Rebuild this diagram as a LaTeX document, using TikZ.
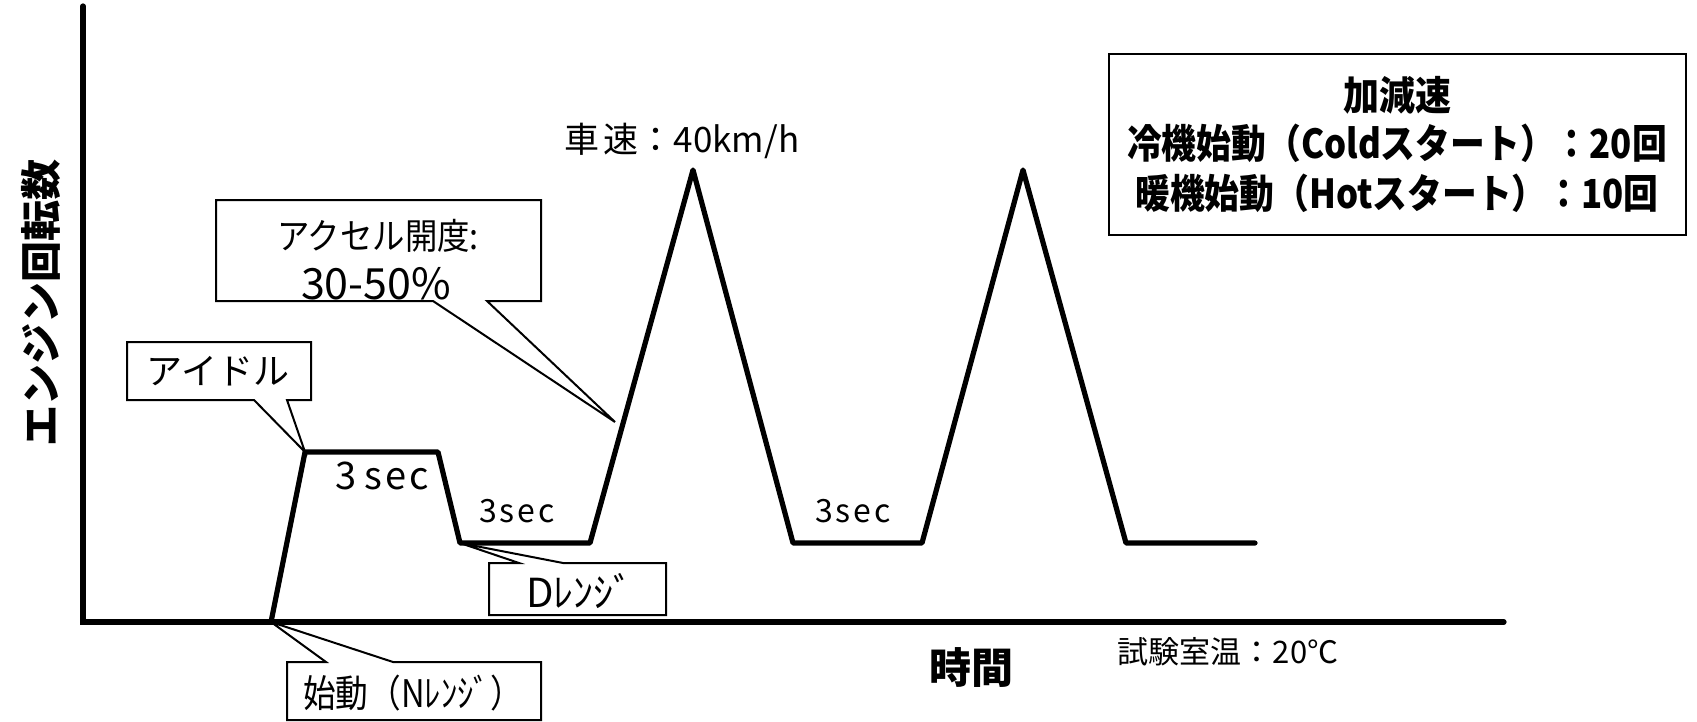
\documentclass[tikz,border=0pt]{standalone}
\usepackage{fontspec}
\setmainfont{Noto Sans CJK JP}
\begin{document}
\begin{tikzpicture}[x=0.5pt,y=-0.5pt,
  axisline/.style={line width=2.6pt,line cap=round},
  curveline/.style={line width=2.6pt,line join=round,line cap=round},
  calloutline/.style={line width=1pt,line join=miter},
  txt/.style={inner sep=0pt,anchor=center},
  secfont/.style={font=\fontsize{16}{19}\selectfont},
  boldfont/.style={font=\bfseries\fontsize{20}{23}\selectfont}]
\useasboundingbox (0,0) rectangle (1697,722);
% axes
\coordinate (origin) at (83,622);
\coordinate (ytop) at (83,6);
\coordinate (xend) at (1504,622);
\draw[axisline] (ytop) -- (origin) -- (xend);
\node[txt,rotate=90,font=\bfseries\fontsize{20.5}{24}\selectfont] (ylab) at (41,303) {エンジン回転数};
\node[txt,font=\bfseries\fontsize{21}{24}\selectfont] (xlab) at (971,668) {時間};
% engine speed curve
\coordinate (p0) at (271,622);
\coordinate (p1) at (305,452);
\coordinate (p2) at (438,452);
\coordinate (p3) at (460,543);
\coordinate (p4) at (590,543);
\coordinate (p5) at (693,170);
\coordinate (p6) at (793,543);
\coordinate (p7) at (922,543);
\coordinate (p8) at (1023,170);
\coordinate (p9) at (1126,543);
\coordinate (p10) at (1255,543);
\draw[curveline] (p0) -- (p1) -- (p2) -- (p3) -- (p4) -- (p5) -- (p6) -- (p7) -- (p8) -- (p9) -- (p10);
% labels on curve
\node[txt,font=\fontsize{19}{22}\selectfont] (s1) at (382,476) {3\kern4pt s\kern1.5pt e\kern1.5pt c};
\node[txt,secfont] (s2) at (517,511) {3\kern1.5pt s\kern1.5pt e\kern1.5pt c};
\node[txt,secfont] (s3) at (853,511) {3\kern1.5pt s\kern1.5pt e\kern1.5pt c};
\node[txt,font=\fontsize{17.5}{20}\selectfont] (speed) at (682,141) {車\kern2pt 速：40km/h};
\node[txt,font=\fontsize{15.5}{18}\selectfont] (temp) at (1228,652) {試験室温：20℃};
% callout: idle
\coordinate (ia) at (127,342);
\coordinate (ib) at (311,342);
\coordinate (ic) at (311,400);
\coordinate (id) at (287,400);
\coordinate (ie) at (254,400);
\coordinate (ig) at (127,400);
\draw[calloutline] (ia) -- (ib) -- (ic) -- (id) -- (p1) -- (ie) -- (ig) -- cycle;
\node[txt,font=\fontsize{18}{21}\selectfont] (idle) at (218,371) {アイドル};
% callout: accelerator
\coordinate (aa) at (216,200);
\coordinate (ab) at (541,200);
\coordinate (ac) at (541,301);
\coordinate (ad) at (487,301);
\coordinate (atip) at (615,422);
\coordinate (ae) at (433,301);
\coordinate (ag) at (216,301);
\draw[calloutline] (aa) -- (ab) -- (ac) -- (ad) -- (atip) -- (ae) -- (ag) -- cycle;
\node[txt,font=\fontsize{18}{21}\selectfont] (acc1) at (378,236) {\scalebox{0.9}[1]{アクセル開度:}};
\node[txt,font=\fontsize{21.5}{24}\selectfont] (acc2) at (376,284) {30-50\%};
% callout: D range
\coordinate (da) at (489,563);
\coordinate (db) at (666,563);
\coordinate (dc) at (666,615);
\coordinate (dg) at (489,615);
\coordinate (dd) at (563,563);
\coordinate (de) at (519,563);
\draw[calloutline] (da) -- (de) -- (p3) -- (dd) -- (db) -- (dc) -- (dg) -- cycle;
\node[txt,font=\fontsize{20}{23}\selectfont] (drange) at (580,591) {Dﾚﾝｼﾞ};
% callout: start
\coordinate (sa) at (287,662);
\coordinate (sb) at (541,662);
\coordinate (sc) at (541,720);
\coordinate (sg) at (287,720);
\coordinate (sd) at (393,662);
\coordinate (se) at (326,662);
\draw[calloutline] (sa) -- (se) -- (p0) -- (sd) -- (sb) -- (sc) -- (sg) -- cycle;
\node[txt,font=\fontsize{19}{22}\selectfont] (start) at (413,693) {\scalebox{0.86}[1]{始動（Nﾚﾝｼﾞ）}};
% legend
\coordinate (la) at (1109,54);
\coordinate (lb) at (1686,235);
\draw[line width=1pt] (la) rectangle (lb);
\node[txt,boldfont] (leg1) at (1397,95) {\scalebox{0.9}[1]{加減速}};
\node[txt,boldfont] (leg2) at (1397,143) {\scalebox{0.87}[1]{冷機始動（Coldスタート）：20回}};
\node[txt,boldfont] (leg3) at (1397,193) {\scalebox{0.87}[1]{暖機始動（Hotスタート）：10回}};
\end{tikzpicture}
\end{document}
